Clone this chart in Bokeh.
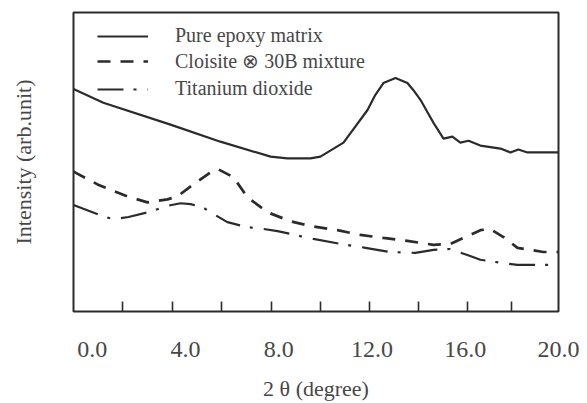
from bokeh.plotting import figure
from bokeh.models import Range1d, FixedTicker, PrintfTickFormatter, Legend, LegendItem
from bokeh.embed import file_html
from bokeh.resources import INLINE

# ---- data ----
x_epoxy = [-0.8, 0.48, 3.36, 5.50, 7.65, 8.37, 9.36, 9.79, 10.78, 11.81, 12.14, 12.49,
           13.01, 13.52, 13.77, 14.08, 14.37, 14.64, 15.07, 15.45, 15.79, 16.14, 16.65,
           17.51, 17.94, 18.28, 18.67, 20.0]
y_epoxy = [74.4, 69.8, 62.5, 56.8, 51.8, 51.2, 51.2, 51.8, 56.5, 67.4, 72.4, 76.4,
           78.1, 76.4, 74.1, 70.8, 66.8, 63.1, 57.8, 58.5, 56.5, 57.1, 55.5,
           54.5, 53.2, 54.2, 53.2, 53.2]

x_cloisite = [-0.8, 0.23, 1.51, 2.37, 3.23, 3.66, 4.34, 5.20, 5.42, 6.06, 6.66, 7.52,
              8.50, 9.36, 10.52, 11.50, 12.49, 13.52, 14.64, 15.36, 16.01, 16.65, 17.07,
              17.64, 18.24, 19.35, 20.0]
y_cloisite = [46.8, 42.5, 38.5, 36.5, 37.5, 38.5, 42.5, 47.2, 47.5, 44.9, 38.2, 33.2,
              30.2, 28.6, 27.2, 25.6, 24.6, 23.6, 22.3, 22.6, 24.9, 27.2, 27.6,
              24.9, 21.3, 19.9, 19.9]

x_tio2 = [-0.8, 0.44, 0.90, 1.56, 2.59, 3.14, 3.79, 4.22, 4.73, 5.20, 5.80, 6.66, 7.35,
          7.95, 8.93, 9.49, 10.65, 11.72, 12.79, 13.86, 14.64, 15.36, 16.09, 16.65,
          17.51, 18.24, 20.0]
y_tio2 = [35.6, 31.9, 30.9, 31.6, 33.6, 35.2, 36.2, 35.9, 34.9, 32.6, 29.9, 28.2, 27.6,
          26.9, 25.2, 24.3, 22.6, 21.3, 19.9, 19.6, 20.6, 20.9, 18.9, 17.3,
          16.3, 15.6, 15.6]

x_tick_values = [0, 4, 8, 12, 16, 20]
x_minor_ticks = [1.3, 3.45, 5.55, 7.7, 9.8, 11.9, 14.0, 16.1, 18.0]

series_names = ["Pure epoxy matrix", "Cloisite \u2297 30B mixture", "Titanium dioxide"]

SERIF = "Liberation Serif"
INK = "#2b2b2b"
TXT = "#474747"

p = figure(width=587, height=403, output_backend="svg", toolbar_location=None,
           x_range=Range1d(-0.8, 20.0), y_range=Range1d(0, 100),
           min_border_left=73, min_border_right=29, min_border_top=12, min_border_bottom=90)

p.background_fill_color = "white"
p.border_fill_color = "white"
p.outline_line_color = INK
p.outline_line_width = 2
p.outline_line_alpha = 1.0
p.grid.visible = False

r1 = p.line(x_epoxy, y_epoxy, line_color=INK, line_width=2.2)
r2 = p.line(x_cloisite, y_cloisite, line_color=INK, line_width=2.7, line_dash="13 10")
r3 = p.line(x_tio2, y_tio2, line_color=INK, line_width=2.2, line_dash="26 10 3 11")

# x axis
xa = p.xaxis[0]
xa.ticker = FixedTicker(ticks=x_tick_values, minor_ticks=x_minor_ticks)
xa.formatter = PrintfTickFormatter(format="%.1f")
xa.axis_line_color = None
xa.major_tick_in = 0
xa.major_tick_out = 0
xa.minor_tick_in = 10
xa.minor_tick_out = 0
xa.minor_tick_line_color = INK
xa.minor_tick_line_width = 1.6
xa.major_label_text_font = SERIF
xa.major_label_text_font_size = "24px"
xa.major_label_text_color = TXT
xa.major_label_standoff = 30
xa.axis_label = "2 \u03b8 (degree)"
xa.axis_label_text_font = SERIF
xa.axis_label_text_font_style = "normal"
xa.axis_label_text_font_size = "22px"
xa.axis_label_text_color = TXT
xa.axis_label_standoff = 16

# y axis
ya = p.yaxis[0]
ya.ticker = FixedTicker(ticks=[])
ya.axis_line_color = None
ya.major_tick_line_color = None
ya.minor_tick_line_color = None
ya.major_label_text_font_size = "0px"
ya.axis_label = "Intensity (arb.unit)"
ya.axis_label_text_font = SERIF
ya.axis_label_text_font_style = "normal"
ya.axis_label_text_font_size = "22px"
ya.axis_label_text_color = TXT
ya.axis_label_standoff = 38

# one legend per row, so each row sits where the reference has it
for name, rend, ybot in zip(series_names, [r1, r2, r3], [264, 238, 211]):
    lg = Legend(items=[LegendItem(label=name, renderers=[rend])], location=(24, ybot))
    lg.background_fill_alpha = 0
    lg.border_line_color = None
    lg.padding = 0
    lg.margin = 0
    lg.spacing = 0
    lg.glyph_width = 51
    lg.glyph_height = 22
    lg.label_height = 22
    lg.label_standoff = 27
    lg.label_text_font = SERIF
    lg.label_text_font_size = "20px"
    lg.label_text_color = TXT
    p.add_layout(lg, "center")

open("out.html", "w").write(file_html(p, INLINE))
